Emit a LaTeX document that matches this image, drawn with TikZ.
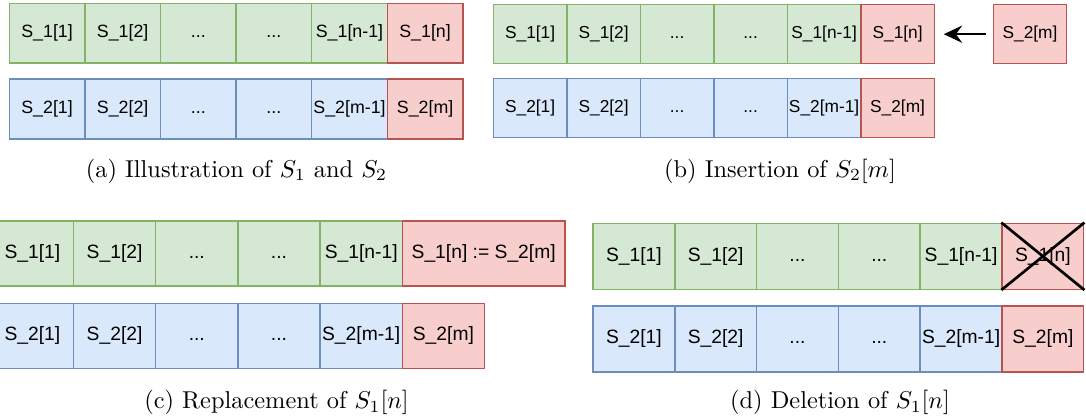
\documentclass[tikz,border=0pt]{standalone}
\usepackage{fontspec}
\newfontfamily\cellfont{Liberation Sans}
\usepackage{amsmath}
\usepackage{tikz}
\usetikzlibrary{positioning}
\usetikzlibrary{arrows.meta}

\definecolor{sonefill}{HTML}{D5E8D4}
\definecolor{soneline}{HTML}{82B366}
\definecolor{stwofill}{HTML}{DAE8FC}
\definecolor{stwoline}{HTML}{6C8EBF}
\definecolor{lastfill}{HTML}{F8CECC}
\definecolor{lastline}{HTML}{B85450}

\tikzset{
  cell/.style={draw, line width=0.55pt, inner sep=0pt, execute at begin node={\vphantom{S[]}}},
  sone/.style={cell, fill=sonefill, draw=soneline},
  stwo/.style={cell, fill=stwofill, draw=stwoline},
  slast/.style={cell, fill=lastfill, draw=lastline},
  sizea/.style={minimum width=31pt, minimum height=24.5pt, font=\cellfont\fontsize{7.3pt}{8pt}\selectfont},
  sizeb/.style={minimum width=30.1pt, minimum height=24.2pt, font=\cellfont\fontsize{7.1pt}{8pt}\selectfont},
  sizec/.style={minimum width=33.7pt, minimum height=26.7pt, font=\cellfont\fontsize{7.9pt}{9pt}\selectfont},
  sized/.style={minimum width=33.5pt, minimum height=27.1pt, font=\cellfont\fontsize{7.9pt}{9pt}\selectfont},
  caption/.style={inner sep=0pt}
}

\begin{document}
\begin{tikzpicture}[x=0.41pt, y=-0.41pt]
\useasboundingbox (0,0) rectangle (1086,417);

\node[sone, sizea] (a11) at (47.1,33.2) {S\_1[1]};
\node[sone, sizea] (a12) at (122.7,33.2) {S\_1[2]};
\node[sone, sizea] (a13) at (198.3,33.2) {...};
\node[sone, sizea] (a14) at (273.9,33.2) {...};
\node[sone, sizea] (a15) at (349.5,33.2) {S\_1[n-1]};
\node[slast, sizea] (a16) at (425.1,33.2) {S\_1[n]};

\node[stwo, sizea] (a21) at (47.1,109) {S\_2[1]};
\node[stwo, sizea] (a22) at (122.7,109) {S\_2[2]};
\node[stwo, sizea] (a23) at (198.3,109) {...};
\node[stwo, sizea] (a24) at (273.9,109) {...};
\node[stwo, sizea] (a25) at (349.5,109) {S\_2[m-1]};
\node[slast, sizea] (a26) at (425.1,109) {S\_2[m]};

\node[caption] (capa) at (236.5,171) {(a) Illustration of $S_1$ and $S_2$};


\node[sone, sizeb] (b11) at (530.1,34.2) {S\_1[1]};
\node[sone, sizeb] (b12) at (603.6,34.2) {S\_1[2]};
\node[sone, sizeb] (b13) at (677.1,34.2) {...};
\node[sone, sizeb] (b14) at (750.6,34.2) {...};
\node[sone, sizeb] (b15) at (824.1,34.2) {S\_1[n-1]};
\node[slast, sizeb] (b16) at (897.6,34.2) {S\_1[n]};

\node[slast, sizeb] (bnew) at (1030,34.2) {S\_2[m]};

\node[stwo, sizeb] (b21) at (530.1,108.2) {S\_2[1]};
\node[stwo, sizeb] (b22) at (603.6,108.2) {S\_2[2]};
\node[stwo, sizeb] (b23) at (677.1,108.2) {...};
\node[stwo, sizeb] (b24) at (750.6,108.2) {...};
\node[stwo, sizeb] (b25) at (824.1,108.2) {S\_2[m-1]};
\node[slast, sizeb] (b26) at (897.6,108.2) {S\_2[m]};

\node[caption] (capb) at (780,171) {(b) Insertion of $S_2[m]$};

\path[-{Stealth[length=7.5pt, width=7pt, inset=2.5pt]}, line width=1pt]
     (bnew.west) edge[shorten <=2.6pt, shorten >=3.6pt] (b16.east);


\node[sone, sizec] (c11) at (32.4,253.4) {S\_1[1]};
\node[sone, sizec] (c12) at (114.6,253.4) {S\_1[2]};
\node[sone, sizec] (c13) at (196.8,253.4) {...};
\node[sone, sizec] (c14) at (279.0,253.4) {...};
\node[sone, sizec] (c15) at (361.2,253.4) {S\_1[n-1]};
\node[slast, sizec, minimum width=66.7pt] (c16) at (483.7,253.4) {S\_1[n] := S\_2[m]};

\node[stwo, sizec] (c21) at (32.4,335.8) {S\_2[1]};
\node[stwo, sizec] (c22) at (114.6,335.8) {S\_2[2]};
\node[stwo, sizec] (c23) at (196.8,335.8) {...};
\node[stwo, sizec] (c24) at (279.0,335.8) {...};
\node[stwo, sizec] (c25) at (361.2,335.8) {S\_2[m-1]};
\node[slast, sizec] (c26) at (443.4,335.8) {S\_2[m]};

\node[caption] (capc) at (276.5,402.5) {(c) Replacement of $S_1[n]$};


\node[sone, sized] (d11) at (633.9,256.3) {S\_1[1]};
\node[sone, sized] (d12) at (715.7,256.3) {S\_1[2]};
\node[sone, sized] (d13) at (797.5,256.3) {...};
\node[sone, sized] (d14) at (879.3,256.3) {...};
\node[sone, sized] (d15) at (961.1,256.3) {S\_1[n-1]};
\node[slast, sized] (d16) at (1042.9,256.3) {S\_1[n]};

\node[stwo, sized] (d21) at (633.9,338.9) {S\_2[1]};
\node[stwo, sized] (d22) at (715.7,338.9) {S\_2[2]};
\node[stwo, sized] (d23) at (797.5,338.9) {...};
\node[stwo, sized] (d24) at (879.3,338.9) {...};
\node[stwo, sized] (d25) at (961.1,338.9) {S\_2[m-1]};
\node[slast, sized] (d26) at (1042.9,338.9) {S\_2[m]};

\node[caption] (capd) at (840,402.5) {(d) Deletion of $S_1[n]$};

\path[line width=1.1pt] (d16.north west) edge (d16.south east)
                        (d16.south west) edge (d16.north east);
\end{tikzpicture}
\end{document}
